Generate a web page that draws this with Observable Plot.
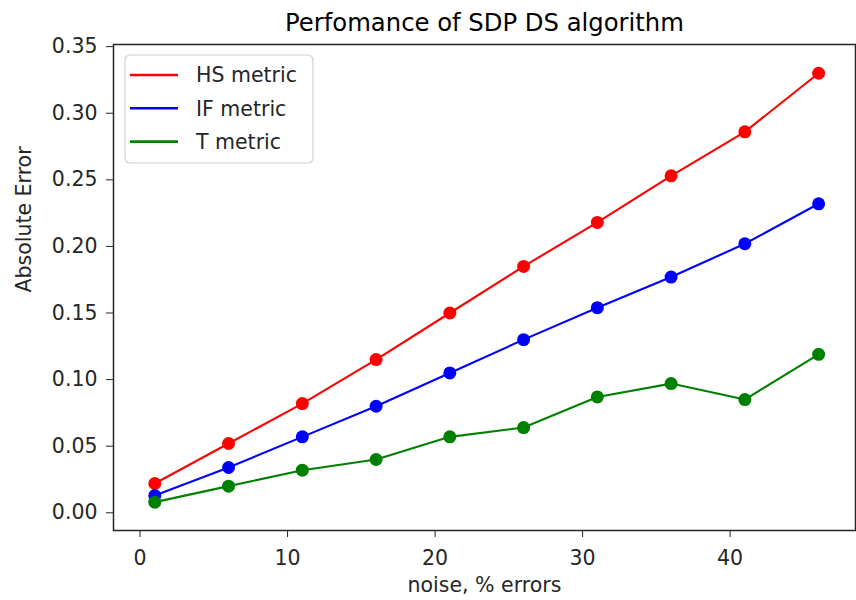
<!DOCTYPE html>
<html>
<head>
<meta charset="utf-8">
<script src="https://cdn.jsdelivr.net/npm/d3@7"></script>
<script src="https://cdn.jsdelivr.net/npm/@observablehq/plot@0.6"></script>
<style>
  html, body { margin: 0; padding: 0; background: #fff; }
  #chart svg { display: block; }
</style>
</head>
<body>
<div id="chart"></div>
<script>
// ---- data ----
const noise = [1, 6, 11, 16, 21, 26, 31, 36, 41, 46];
const hsMetric = [0.022, 0.052, 0.082, 0.115, 0.150, 0.185, 0.218, 0.253, 0.286, 0.330];
const ifMetric = [0.013, 0.034, 0.057, 0.080, 0.105, 0.130, 0.154, 0.177, 0.202, 0.232];
const tMetric  = [0.008, 0.020, 0.032, 0.040, 0.057, 0.064, 0.087, 0.097, 0.085, 0.119];
const seriesNames = ["HS metric", "IF metric", "T metric"];
const seriesColors = ["#ff0000", "#0000ff", "#008000"];
const xTicks = [0, 10, 20, 30, 40];
const yTicks = [0, 0.05, 0.10, 0.15, 0.20, 0.25, 0.30, 0.35];
const titleText = "Perfomance of SDP DS algorithm";
const xLabel = "noise, % errors";
const yLabel = "Absolute Error";

const seriesValues = [hsMetric, ifMetric, tMetric];
const rows = [];
seriesNames.forEach((name, i) => {
  noise.forEach((x, j) => rows.push({series: name, x, y: seriesValues[i][j]}));
});

const W = 856, H = 600;
const mL = 113, mR = 1, mT = 44, mB = 70;
const FONT = "DejaVu Sans";

const plot = Plot.plot({
  width: W,
  height: H,
  marginLeft: mL,
  marginRight: mR,
  marginTop: mT,
  marginBottom: mB,
  style: {fontFamily: FONT, fontSize: "20.5px", color: "#262626", background: "#fff"},
  x: {domain: [-1.8, 48.5]},
  y: {domain: [-0.0133, 0.3516]},
  color: {domain: seriesNames, range: seriesColors},
  marks: [
    Plot.line(rows, {x: "x", y: "y", z: "series", stroke: "series", strokeWidth: 2.1}),
    Plot.dot(rows, {x: "x", y: "y", fill: "series", r: 6.5, stroke: "none"}),
    Plot.frame({stroke: "#262626", strokeWidth: 1.5}),
    Plot.axisX({ticks: xTicks, tickFormat: d3.format("d"), tickSize: 7, tickPadding: 13, label: null, stroke: "#262626"}),
    Plot.axisY({ticks: yTicks, tickFormat: d3.format(".2f"), tickSize: 7, tickPadding: 9, label: null, stroke: "#262626"}),
    Plot.text([titleText], {frameAnchor: "top", dy: -21, text: d => d, fontSize: 24.3, fill: "#000", lineAnchor: "middle"}),
    Plot.text([xLabel], {frameAnchor: "bottom", dy: 54.5, text: d => d, fontSize: 20.5, fill: "#262626", lineAnchor: "middle"}),
    Plot.text([yLabel], {frameAnchor: "left", dx: -89, dy: 5, rotate: -90, text: d => d, fontSize: 20.5, fill: "#262626", lineAnchor: "middle"})
  ]
});
document.getElementById("chart").appendChild(plot);

// ---- legend (decoration drawn into the same SVG) ----
const svg = d3.select(plot);
const lg = svg.append("g")
  .attr("font-family", FONT)
  .attr("font-size", 20.5)
  .attr("text-anchor", "start");
const boxX = mL + 12, boxY = mT + 11, boxW = 188, boxH = 108, rowH = 33.3;
lg.append("rect")
  .attr("x", boxX).attr("y", boxY).attr("width", boxW).attr("height", boxH)
  .attr("rx", 5).attr("ry", 5)
  .attr("fill", "#fff").attr("fill-opacity", 0.8)
  .attr("stroke", "#d0d0d0").attr("stroke-width", 1.2);
seriesNames.forEach((name, i) => {
  const cy = boxY + 20 + i * rowH;
  lg.append("line")
    .attr("x1", boxX + 5).attr("x2", boxX + 53)
    .attr("y1", cy).attr("y2", cy)
    .attr("stroke", seriesColors[i]).attr("stroke-width", 2.6);
  lg.append("text")
    .attr("x", boxX + 71).attr("y", cy).attr("dy", "0.36em")
    .attr("text-anchor", "start")
    .attr("fill", "#262626")
    .text(name);
});
</script>
</body>
</html>
